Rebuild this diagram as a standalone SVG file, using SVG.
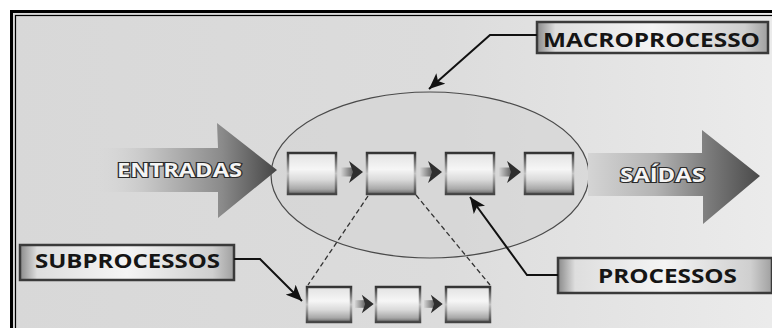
<svg xmlns="http://www.w3.org/2000/svg" width="772" height="328" viewBox="0 0 772 328">
  <defs>
    <linearGradient id="bg" x1="0" y1="0" x2="1" y2="0">
      <stop offset="0" stop-color="#d8d8d8"/>
      <stop offset="0.55" stop-color="#dcdcdc"/>
      <stop offset="1" stop-color="#ececec"/>
    </linearGradient>
    <linearGradient id="inGrad" gradientUnits="userSpaceOnUse" x1="95" y1="0" x2="277" y2="0">
      <stop offset="0" stop-color="#d8d8d8" stop-opacity="0"/>
      <stop offset="0.3" stop-color="#c4c4c4"/>
      <stop offset="0.7" stop-color="#8a8a8a"/>
      <stop offset="1" stop-color="#454545"/>
    </linearGradient>
    <linearGradient id="outGrad" gradientUnits="userSpaceOnUse" x1="585" y1="0" x2="760" y2="0">
      <stop offset="0" stop-color="#d6d6d6"/>
      <stop offset="0.4" stop-color="#b4b4b4"/>
      <stop offset="0.7" stop-color="#7c7c7c"/>
      <stop offset="1" stop-color="#4a4a4a"/>
    </linearGradient>
    <linearGradient id="boxFill" x1="0" y1="0" x2="0" y2="1">
      <stop offset="0" stop-color="#e2e2e2"/>
      <stop offset="0.4" stop-color="#f6f6f6"/>
      <stop offset="0.65" stop-color="#dadada"/>
      <stop offset="0.88" stop-color="#a8a8a8"/>
      <stop offset="1" stop-color="#686868"/>
    </linearGradient>
    <linearGradient id="boxEdge" x1="0" y1="0" x2="0" y2="1">
      <stop offset="0" stop-color="#333"/>
      <stop offset="0.5" stop-color="#c4c4c4"/>
      <stop offset="1" stop-color="#444"/>
    </linearGradient>
    <linearGradient id="shaft" x1="0" y1="0" x2="1" y2="0">
      <stop offset="0" stop-color="#d4d4d4"/>
      <stop offset="1" stop-color="#5a5a5a"/>
    </linearGradient>
    <linearGradient id="labelFill" x1="0" y1="0" x2="1" y2="0">
      <stop offset="0" stop-color="#8a8a8a"/>
      <stop offset="0.08" stop-color="#dedede"/>
      <stop offset="0.5" stop-color="#f4f4f4"/>
      <stop offset="0.9" stop-color="#cfcfcf"/>
      <stop offset="1" stop-color="#a0a0a0"/>
    </linearGradient>
    <marker id="head" markerUnits="userSpaceOnUse" markerWidth="18" markerHeight="14" refX="16" refY="7" orient="auto">
      <path d="M0,0 L16,7 L0,14 L4,7 Z" fill="#111"/>
    </marker>
    <!-- small step arrow between boxes, tip at local (22,0) -->
    <g id="step">
      <rect x="0" y="-4.5" width="13" height="9" fill="url(#shaft)"/>
      <path d="M8,-11 L22,0 L8,11 L12,0 Z" fill="#2e2e2e"/>
    </g>
    <g id="box">
      <rect x="0" y="0" width="48" height="41" fill="url(#boxFill)" stroke="url(#boxEdge)" stroke-width="2.5"/>
    </g>
    <g id="subbox">
      <rect x="0" y="0" width="44" height="35" fill="url(#boxFill)" stroke="url(#boxEdge)" stroke-width="2.5"/>
    </g>
  </defs>
  <style>
    .lbl { font-family: "Open Sans", "Liberation Sans", sans-serif; font-weight: 700; fill: #151515; }
    .big { font-family: "Open Sans", "Liberation Sans", sans-serif; font-weight: 700; fill: #f4f4f4; stroke: #2a2a2a; stroke-width: 2.2; paint-order: stroke; }
    .lbox { fill: url(#labelFill); stroke: #3a3a3a; stroke-width: 2.5; }
    .leader { fill: none; stroke: #111; stroke-width: 2; marker-end: url(#head); }
    .dash { fill: none; stroke: #333; stroke-width: 1.3; stroke-dasharray: 5 3; }
  </style>

  <!-- page and frame -->
  <rect x="0" y="0" width="772" height="328" fill="#ffffff"/>
  <rect x="11" y="11" width="780" height="340" fill="url(#bg)"/>
  <rect x="11.5" y="11.5" width="790" height="340" fill="none" stroke="#000" stroke-width="3"/>
  <rect x="15.5" y="15.5" width="790" height="340" fill="none" stroke="#000" stroke-width="1.2"/>

  <!-- macroprocess ellipse -->
  <g id="macro-ellipse">
    <ellipse cx="430" cy="175" rx="159" ry="83" fill="#d3d3d3" fill-opacity="0.6" stroke="#4a4a4a" stroke-width="1.2"/>
  </g>

  <!-- inputs arrow -->
  <g id="entradas">
    <path d="M95,148 L218,148 L217,123 L277,170 L218,218 L218,192 L95,192 Z" fill="url(#inGrad)"/>
    <text class="big" x="117" y="177" font-size="19" textLength="125" lengthAdjust="spacingAndGlyphs">ENTRADAS</text>
  </g>

  <!-- outputs arrow -->
  <g id="saidas">
    <path d="M588,153 L702,153 L702,130 L760,176 L703,224 L703,196 L588,196 Z" fill="url(#outGrad)"/>
    <text class="big" x="620" y="182" font-size="19" textLength="85" lengthAdjust="spacingAndGlyphs">SAÍDAS</text>
  </g>

  <!-- processes inside the macroprocess -->
  <g id="proc1"><use href="#box" x="288" y="153"/></g>
  <g id="proc2"><use href="#box" x="367" y="153"/></g>
  <g id="proc3"><use href="#box" x="446" y="153"/></g>
  <g id="proc4"><use href="#box" x="525" y="153"/></g>

  <!-- subprocesses -->
  <g id="sub1"><use href="#subbox" x="307" y="287"/></g>
  <g id="sub2"><use href="#subbox" x="376" y="287"/></g>
  <g id="sub3"><use href="#subbox" x="446" y="287"/></g>

  <!-- labels -->
  <g id="label-macro">
    <rect class="lbox" x="537" y="22" width="231" height="31"/>
    <text class="lbl" x="543" y="47" font-size="19" textLength="217" lengthAdjust="spacingAndGlyphs">MACROPROCESSO</text>
  </g>
  <g id="label-sub">
    <rect class="lbox" x="20" y="245" width="214" height="35"/>
    <text class="lbl" x="35" y="268" font-size="19" textLength="185" lengthAdjust="spacingAndGlyphs">SUBPROCESSOS</text>
  </g>
  <g id="label-proc">
    <rect class="lbox" x="558" y="258" width="214" height="35"/>
    <text class="lbl" x="598" y="283" font-size="19" textLength="139" lengthAdjust="spacingAndGlyphs">PROCESSOS</text>
  </g>

  <!-- connectors -->
  <g id="connectors">
    <use href="#step" x="341" y="172"/>
    <use href="#step" x="420" y="172"/>
    <use href="#step" x="499" y="172"/>
    <use href="#step" transform="translate(355,304) scale(0.85)"/>
    <use href="#step" transform="translate(424,304) scale(0.85)"/>
    <line class="dash" x1="368" y1="196" x2="308" y2="285"/>
    <line class="dash" x1="416" y1="195" x2="490" y2="285"/>
    <polyline class="leader" points="537,35 490,35 429,89"/>
    <polyline class="leader" points="234,259 260,259 302,301"/>
    <polyline class="leader" points="558,275 527,275 470,197"/>
  </g>
</svg>
